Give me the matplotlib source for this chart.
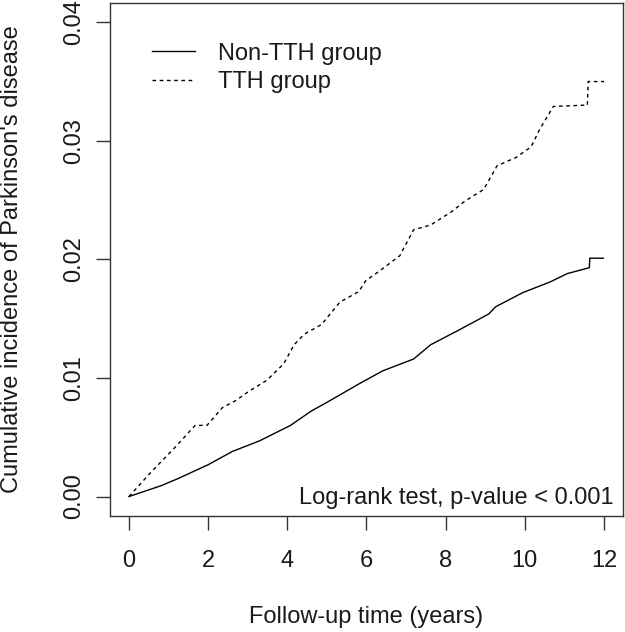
import matplotlib
matplotlib.use('Agg')
import matplotlib.pyplot as plt
from matplotlib.lines import Line2D

plt.rcParams['font.family'] = ['Liberation Sans', 'DejaVu Sans']

# cumulative incidence
tth_time = [0, 0.54, 1.15, 1.67, 1.97, 2.36, 2.70, 3.04, 3.48, 3.91, 4.17, 4.43,
            4.86, 5.33, 5.81, 5.98, 6.32, 6.84, 7.19, 7.62, 8.14, 8.48, 8.96,
            9.30, 9.78, 10.16, 10.38, 10.72, 11.46, 11.58, 11.60, 12.0]
tth_ci = [0, 0.0020, 0.0041, 0.0060, 0.0060, 0.0075, 0.0081, 0.0089, 0.0098,
          0.0112, 0.0128, 0.0137, 0.0145, 0.0164, 0.0173, 0.0182, 0.0190,
          0.0203, 0.0225, 0.0229, 0.0240, 0.0249, 0.0259, 0.0279, 0.0286,
          0.0295, 0.0310, 0.0329, 0.0330, 0.0330, 0.0350, 0.0350]

nontth_time = [0, 0.80, 1.23, 2.01, 2.61, 3.30, 4.08, 4.60, 5.03, 5.81, 6.41,
               7.19, 7.62, 8.31, 9.09, 9.26, 9.95, 10.64, 11.07, 11.63, 11.64, 11.98]
nontth_ci = [0, 0.0009, 0.0015, 0.0027, 0.0038, 0.0047, 0.0060, 0.0072, 0.0080,
             0.0095, 0.0106, 0.0116, 0.0128, 0.0140, 0.0154, 0.0160, 0.0172,
             0.0181, 0.0188, 0.0193, 0.0201, 0.0201]

x_ticks = [0, 2, 4, 6, 8, 10, 12]
y_ticks = [0.00, 0.01, 0.02, 0.03, 0.04]
y_tick_labels = ['0.00', '0.01', '0.02', '0.03', '0.04']

fig = plt.figure(figsize=(6.25, 6.32), dpi=100)
ax = fig.add_axes([110 / 625, 1 - 515.5 / 632, 513 / 625, 512.2 / 632])

ax.plot(nontth_time, nontth_ci, color='black', lw=1.0, linestyle='-')
ax.plot(tth_time, tth_ci, color='black', lw=1.0, linestyle=(0, (2.6, 2.6)))

ax.set_xlim(-0.48, 12.48)
ax.set_ylim(-0.0016, 0.0416)
ax.set_xticks(x_ticks)
ax.set_xticklabels([str(t) for t in x_ticks])
ax.set_yticks(y_ticks)
ax.set_yticklabels(y_tick_labels)

for sp in ax.spines.values():
    sp.set_color('#333333')
    sp.set_linewidth(1.0)
ax.tick_params(axis='both', direction='out', length=10, width=1.0,
               color='#333333', labelsize=17, labelcolor='#1a1a1a')
ax.tick_params(axis='x', pad=15)
ax.tick_params(axis='y', pad=8, labelrotation=90)
for lab in ax.get_yticklabels():
    lab.set_va('center')

ax.set_xlabel('Follow-up time (years)', fontsize=17, color='#1a1a1a', va='center')
ax.xaxis.set_label_coords(0.5, -0.198)
ax.set_ylabel("Cumulative incidence of Parkinson's disease", fontsize=17,
              color='#1a1a1a', va='center')
ax.yaxis.set_label_coords(-0.191, 0.5)

ax.text(0.9825, 0.0225, 'Log-rank test, p-value < 0.001', transform=ax.transAxes,
        ha='right', va='baseline', fontsize=17, color='#1a1a1a')

handles = [Line2D([], [], color='black', lw=1.0, linestyle='-'),
           Line2D([], [], color='black', lw=1.0, linestyle=(0, (2.6, 2.6)))]
ax.legend(handles, ['Non-TTH group', 'TTH group'], loc='upper left',
          bbox_to_anchor=((152 - 110) / 513, 0.923), frameon=False, fontsize=17,
          handlelength=1.82, handletextpad=0.97, labelspacing=0.28,
          borderpad=0, borderaxespad=0, labelcolor='#1a1a1a')

fig.savefig('out.png', dpi=100)
